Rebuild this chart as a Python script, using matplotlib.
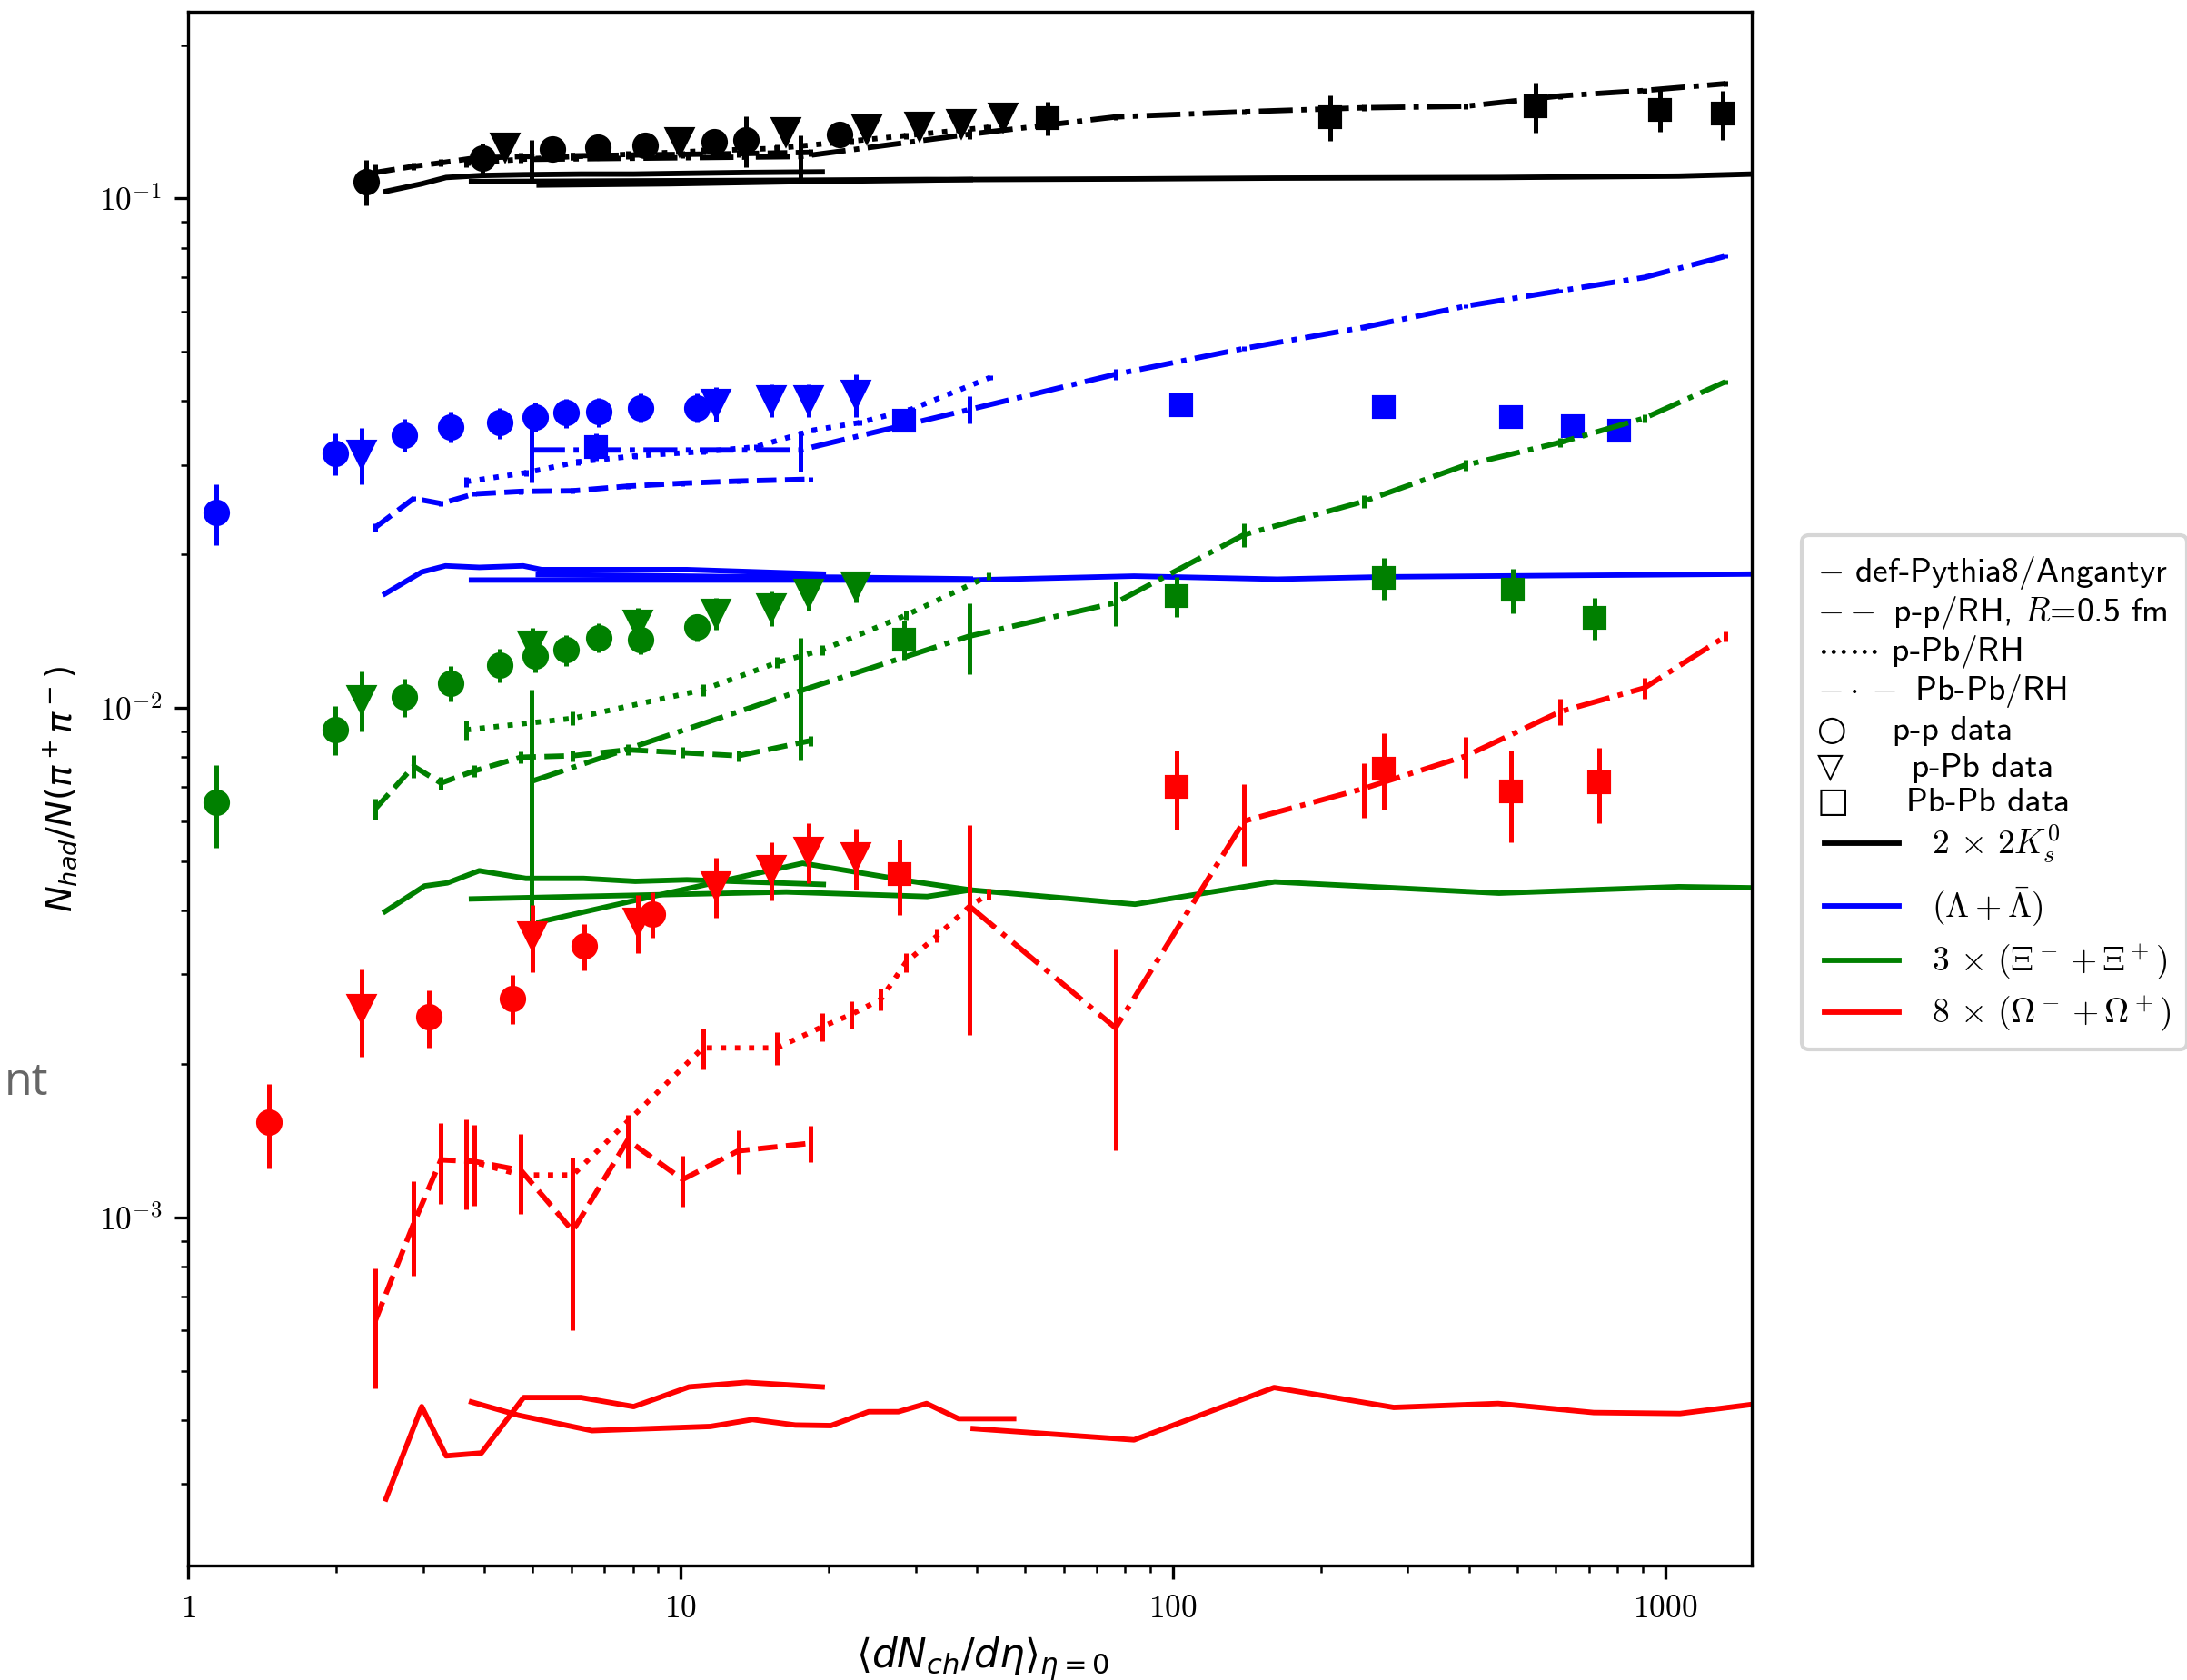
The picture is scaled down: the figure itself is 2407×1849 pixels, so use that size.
import numpy as np
import matplotlib
matplotlib.use("Agg")
import matplotlib.pyplot as plt
from matplotlib.lines import Line2D
from matplotlib.legend_handler import HandlerBase
from matplotlib.ticker import FuncFormatter, NullFormatter

plt.rcParams['mathtext.fontset'] = 'cm'

# ---------------- shared x grids ----------------
PP13_X = [1.14, 1.99, 2.75, 3.41, 4.29, 5.07, 5.85, 6.83, 8.30, 10.8]
PPB_X = [2.25, 5.0, 8.2, 11.8, 15.3, 18.2, 22.7]
RH_PP_X = [2.40, 2.87, 3.26, 3.81, 4.74, 6.04, 7.81, 10.1, 13.1, 18.35]
RH_PBPB_X = [4.97, 17.5, 38.6, 76.5, 139.5, 244, 393, 613, 907, 1324]

# ---------------- black : 2 x 2K0s ----------------
K_PP_X = [2.30, 3.96, 5.50, 6.78, 8.48, 11.7, 13.6, 21.0]
K_PP_Y = [0.108, 0.120, 0.125, 0.126, 0.127, 0.129, 0.130, 0.1335]
K_PP_ERR = [0.011, 0.008, 0.006, 0.006, 0.006, 0.006, 0.015, 0.006]
K_PPB_X = [4.41, 9.96, 16.4, 23.9, 30.6, 37.2, 45.3]
K_PPB_Y = [0.126, 0.1293, 0.1349, 0.1368, 0.1387, 0.1405, 0.1445]
K_PPB_ERR = [0.006, 0.006, 0.006, 0.006, 0.006, 0.007, 0.006]
K_PBPB_X = [55.6, 209, 546, 976, 1310]
K_PBPB_Y = [0.1438, 0.1445, 0.1516, 0.1494, 0.1465]
K_PBPB_ERR = [0.011, 0.015, 0.017, 0.014, 0.016]
K_RHPP_Y = [0.1124, 0.1156, 0.1174, 0.1200, 0.1208, 0.1212, 0.1216, 0.1220, 0.1224, 0.1231]
K_RHPP_ERR = [0.004, 0.002, 0.002, 0.002, 0.002, 0.002, 0.002, 0.002, 0.002, 0.002]
K_RHPPB_X = [3.66, 4.74, 6.04, 7.81, 11.1, 15.7, 22.2, 28.7, 42.2]
K_RHPPB_Y = [0.1171, 0.1193, 0.1208, 0.1220, 0.1239, 0.1254, 0.1295, 0.1328, 0.1379]
K_RHPPB_ERR = [0.002, 0.002, 0.002, 0.002, 0.002, 0.002, 0.002, 0.002, 0.002]
K_RHPBPB_Y = [0.1193, 0.1208, 0.1336, 0.1445, 0.1479, 0.1506, 0.1516, 0.1589, 0.1628, 0.1679]
K_RHPBPB_ERR = [0.011, 0.012, 0.003, 0.002, 0.002, 0.002, 0.002, 0.002, 0.002, 0.002]
K_DEF_PP_X = [2.52, 2.98, 3.34, 3.94, 4.80, 6.28, 8.03, 10.4, 13.6, 19.4]
K_DEF_PP_Y = [0.1032, 0.1068, 0.1099, 0.1109, 0.1113, 0.1116, 0.1116, 0.1120, 0.1124, 0.1127]
K_DEF_PPB_X = [5.16, 9.49, 17.7, 29.5, 38.8]
K_DEF_PPB_Y = [0.1062, 0.1068, 0.1079, 0.1085, 0.1089]
K_DEF_PBPB_X = [3.76, 7.80, 16.4, 31.7, 38.8, 83.8, 161, 460, 1067, 1500]
K_DEF_PBPB_Y = [0.1079, 0.1082, 0.1085, 0.1089, 0.1089, 0.1092, 0.1096, 0.1099, 0.1106, 0.1116]

# ---------------- blue : Lambda + anti-Lambda ----------------
L_PP_Y = [0.0242, 0.0316, 0.03436, 0.03565, 0.0363, 0.0373, 0.03797, 0.0381, 0.03885, 0.03885]
L_PP_ERR = [0.0033, 0.003, 0.0025, 0.0025, 0.0025, 0.0025, 0.0025, 0.0025, 0.0025, 0.0025]
L_PPB_X = [2.25, 11.8, 15.3, 18.2, 22.7]
L_PPB_Y = [0.03144, 0.03954, 0.0402, 0.0402, 0.0412]
L_PPB_ERR = [0.004, 0.003, 0.003, 0.003, 0.004]
L_PBPB_X = [6.74, 28.5, 104, 268, 487, 649, 805]
L_PBPB_Y = [0.03252, 0.03655, 0.03922, 0.03898, 0.0373, 0.03567, 0.03504]
L_PBPB_ERR = [0.002, 0.0015, 0.0015, 0.0015, 0.0015, 0.0015, 0.0015]
L_RHPP_Y = [0.02262, 0.02577, 0.02518, 0.0263, 0.0266, 0.02667, 0.02723, 0.0276, 0.02787, 0.0281]
L_RHPP_ERR = [0.0004, 0.0003, 0.0003, 0.0003, 0.0003, 0.0003, 0.0003, 0.0003, 0.0003, 0.0003]
L_RHPPB_X = [3.66, 4.85, 6.19, 8.09, 11.1, 14.2, 18.6, 23.1, 29.5, 42.6]
L_RHPPB_Y = [0.02779, 0.02894, 0.0304, 0.03122, 0.03184, 0.03252, 0.03508, 0.0363, 0.03859, 0.04453]
L_RHPPB_ERR = [0.0006, 0.0004, 0.0004, 0.0004, 0.0004, 0.0004, 0.0004, 0.0004, 0.0004, 0.0004]
L_RHPBPB_Y = [0.03207, 0.03207, 0.0385, 0.04516, 0.05074, 0.05583, 0.06144, 0.06587, 0.06996, 0.07698]
L_RHPBPB_ERR = [0.0044, 0.003, 0.0024, 0.0011, 0.0006, 0.0006, 0.0006, 0.0006, 0.0005, 0.0005]
L_DEF_PP_X = [2.51, 2.98, 3.33, 3.90, 4.79, 5.22, 10.3, 19.5]
L_DEF_PP_Y = [0.01675, 0.01848, 0.0190, 0.01887, 0.0190, 0.01868, 0.01868, 0.01831]
L_DEF_PPB_X = [5.14, 7.80, 12.3, 20.8, 38.8]
L_DEF_PPB_Y = [0.01826, 0.0182, 0.0181, 0.01805, 0.01791]
L_DEF_PBPB_X = [3.76, 19.5, 38.7, 83.4, 163, 270, 1500]
L_DEF_PBPB_Y = [0.01782, 0.01782, 0.01782, 0.01814, 0.01789, 0.01808, 0.01831]

# ---------------- green : 3 x (Xi- + Xi+) ----------------
X_PP_Y = [0.006516, 0.009076, 0.01051, 0.01118, 0.01214, 0.01265, 0.0130, 0.01374, 0.01364, 0.0144]
X_PP_ERR = [0.0012, 0.001, 0.0009, 0.0009, 0.0009, 0.0009, 0.0009, 0.0009, 0.0009, 0.0009]
X_PPB_Y = [0.0104, 0.01327, 0.01461, 0.01532, 0.01569, 0.01675, 0.01733]
X_PPB_ERR = [0.0014, 0.0011, 0.0011, 0.0011, 0.0012, 0.0012, 0.0012]
X_PBPB_X = [28.5, 102, 268, 490, 720]
X_PBPB_Y = [0.01364, 0.01656, 0.01799, 0.01703, 0.01502]
X_PBPB_ERR = [0.0012, 0.0015, 0.0017, 0.0017, 0.0014]
X_RHPP_Y = [0.006343, 0.007681, 0.007121, 0.007522, 0.008001, 0.008056, 0.008276, 0.008168, 0.008056, 0.008622]
X_RHPP_ERR = [0.0003, 0.0004, 0.0002, 0.0002, 0.0002, 0.0002, 0.0002, 0.0002, 0.0002, 0.0002]
X_RHPPB_X = [3.66, 6.04, 11.1, 15.7, 19.4, 28.7, 42.2]
X_RHPPB_Y = [0.009053, 0.009539, 0.01085, 0.01227, 0.01299, 0.0152, 0.01814]
X_RHPPB_ERR = [0.0004, 0.0003, 0.0003, 0.0003, 0.0003, 0.0003, 0.0003]
X_RHPBPB_Y = [0.007171, 0.0108, 0.01383, 0.01608, 0.02187, 0.02542, 0.02995, 0.0332, 0.03703, 0.04364]
X_RHPBPB_ERR = [0.0037, 0.0029, 0.0022, 0.0016, 0.0012, 0.0007, 0.0007, 0.0007, 0.0007, 0.0005]
X_DEF_PP_X = [2.51, 3.02, 3.36, 3.90, 4.85, 6.35, 8.09, 10.3, 19.5]
X_DEF_PP_Y = [0.003984, 0.004472, 0.004535, 0.004791, 0.004628, 0.004628, 0.004567, 0.004599, 0.004503]
X_DEF_PPB_X = [5.16, 9.49, 17.7, 29.5, 38.8]
X_DEF_PPB_Y = [0.0038, 0.004339, 0.004956, 0.004567, 0.004392]
X_DEF_PBPB_X = [3.76, 7.80, 16.4, 31.7, 38.8, 83.8, 161, 460, 1067, 1500]
X_DEF_PBPB_Y = [0.004218, 0.004285, 0.004353, 0.004264, 0.004392, 0.004118, 0.004556, 0.004329, 0.004457, 0.004435]

# ---------------- red : 8 x (Omega- + Omega+) ----------------
O_PP_X = [1.456, 3.08, 4.55, 6.38, 8.78]
O_PP_Y = [0.001538, 0.002474, 0.002692, 0.003411, 0.003943]
O_PP_ERR = [0.00029, 0.00032, 0.0003, 0.00036, 0.0004]
O_PPB_Y = [0.00257, 0.003571, 0.0038, 0.004472, 0.004825, 0.005236, 0.005093]
O_PPB_ERR = [0.0005, 0.00054, 0.0005, 0.0006, 0.00063, 0.0007, 0.0007]
O_PBPB_X = [27.8, 102, 268, 487, 735]
O_PBPB_Y = [0.004724, 0.007013, 0.007613, 0.006845, 0.007141]
O_PBPB_ERR = [0.0008, 0.00125, 0.0013, 0.0014, 0.0012]
O_RHPP_Y = [0.0006282, 0.0009731, 0.001297, 0.001288, 0.001237, 0.0009408, 0.001418, 0.001187, 0.001351, 0.001398]
O_RHPP_ERR = [0.000166, 0.000205, 0.000233, 0.000234, 0.00022, 0.00034, 0.00017, 0.000136, 0.000134, 0.000115]
O_RHPPB_X = [3.66, 4.74, 6.04, 11.1, 15.7, 19.4, 22.2, 25.5, 28.7, 33.2, 38.6, 42.2]
O_RHPPB_Y = [0.001297, 0.001211, 0.001211, 0.002151, 0.002151, 0.002367, 0.002501, 0.002679, 0.003168, 0.003571, 0.004074, 0.004312]
O_RHPPB_ERR = [0.00026, 0.0001, 0.0001, 0.0002, 0.00016, 0.00015, 0.00015, 0.00013, 0.00014, 0.0001, 0.0001, 0.0001]
O_RHPBPB_X = [38.6, 76.5, 139.5, 244, 393, 613, 907, 1324]
O_RHPBPB_Y = [0.004083, 0.002355, 0.005996, 0.006945, 0.008041, 0.009838, 0.01094, 0.0138]
O_RHPBPB_ERR = [0.0018, 0.001, 0.0011, 0.00085, 0.00074, 0.0006, 0.0005, 0.0003]
O_DEF_PP_X = [2.52, 2.98, 3.34, 3.94, 4.80, 6.28, 8.03, 10.4, 13.6, 19.4]
O_DEF_PP_Y = [0.0002802, 0.0004253, 0.0003404, 0.0003448, 0.0004431, 0.0004431, 0.0004253, 0.0004648, 0.0004745, 0.0004648]
O_DEF_PPB_X = [3.76, 4.69, 6.61, 11.5, 14.0, 17.1, 20.2, 24.1, 27.7, 31.6, 36.7, 47.5]
O_DEF_PPB_Y = [0.0004343, 0.0004089, 0.0003815, 0.0003888, 0.0004012, 0.0003913, 0.0003903, 0.0004156, 0.0004156, 0.0004313, 0.0004027, 0.0004027]
O_DEF_PBPB_X = [39.3, 83.4, 160.6, 281, 458, 716, 1073, 1500]
O_DEF_PBPB_Y = [0.0003851, 0.0003659, 0.0004636, 0.0004237, 0.0004313, 0.000414, 0.0004122, 0.0004294]

# ---------------- legend text ----------------
STYLE_LABELS = [r'$-$ def-Pythia8/Angantyr',
                r'$--$ p-p/RH, $R$=0.5 fm',
                r'$\cdots\cdots$ p-Pb/RH',
                r'$-\cdot-$ Pb-Pb/RH',
                u'\u25CB    p-p data',
                u'\u25BD      p-Pb data',
                u'\u25A1     Pb-Pb data']
SPECIES_LABELS = [r'$\qquad\quad\;\;\; 2\,\times\,2K_s^0$',
                  r'$\qquad\quad\;\;\; (\Lambda+\bar{\Lambda})$',
                  r'$\qquad\quad\;\;\; 3\,\times\,(\Xi^-+\Xi^+)$',
                  r'$\qquad\quad\;\;\; 8\,\times\,(\Omega^-+\Omega^+)$']
SPECIES_COLORS = ['black', 'blue', 'green', 'red']

# ---------------- drawing ----------------
LW = 1.4
EW = 1.2
MS = 6

fig = plt.figure(figsize=(2407 / 300, 1849 / 300), dpi=300)
ax = fig.add_axes([0.0861, 0.0679, 0.7149, 0.9252])
ax.set_xscale('log')
ax.set_yscale('log')

species = [
    ('black', K_DEF_PP_X, K_DEF_PP_Y, K_DEF_PPB_X, K_DEF_PPB_Y, K_DEF_PBPB_X, K_DEF_PBPB_Y,
     RH_PP_X, K_RHPP_Y, K_RHPP_ERR, K_RHPPB_X, K_RHPPB_Y, K_RHPPB_ERR, RH_PBPB_X, K_RHPBPB_Y, K_RHPBPB_ERR,
     K_PP_X, K_PP_Y, K_PP_ERR, K_PPB_X, K_PPB_Y, K_PPB_ERR, K_PBPB_X, K_PBPB_Y, K_PBPB_ERR),
    ('blue', L_DEF_PP_X, L_DEF_PP_Y, L_DEF_PPB_X, L_DEF_PPB_Y, L_DEF_PBPB_X, L_DEF_PBPB_Y,
     RH_PP_X, L_RHPP_Y, L_RHPP_ERR, L_RHPPB_X, L_RHPPB_Y, L_RHPPB_ERR, RH_PBPB_X, L_RHPBPB_Y, L_RHPBPB_ERR,
     PP13_X, L_PP_Y, L_PP_ERR, L_PPB_X, L_PPB_Y, L_PPB_ERR, L_PBPB_X, L_PBPB_Y, L_PBPB_ERR),
    ('green', X_DEF_PP_X, X_DEF_PP_Y, X_DEF_PPB_X, X_DEF_PPB_Y, X_DEF_PBPB_X, X_DEF_PBPB_Y,
     RH_PP_X, X_RHPP_Y, X_RHPP_ERR, X_RHPPB_X, X_RHPPB_Y, X_RHPPB_ERR, RH_PBPB_X, X_RHPBPB_Y, X_RHPBPB_ERR,
     PP13_X, X_PP_Y, X_PP_ERR, PPB_X, X_PPB_Y, X_PPB_ERR, X_PBPB_X, X_PBPB_Y, X_PBPB_ERR),
    ('red', O_DEF_PP_X, O_DEF_PP_Y, O_DEF_PPB_X, O_DEF_PPB_Y, O_DEF_PBPB_X, O_DEF_PBPB_Y,
     RH_PP_X, O_RHPP_Y, O_RHPP_ERR, O_RHPPB_X, O_RHPPB_Y, O_RHPPB_ERR, O_RHPBPB_X, O_RHPBPB_Y, O_RHPBPB_ERR,
     O_PP_X, O_PP_Y, O_PP_ERR, PPB_X, O_PPB_Y, O_PPB_ERR, O_PBPB_X, O_PBPB_Y, O_PBPB_ERR),
]

for s in species:
    c = s[0]
    ax.plot(s[1], s[2], '-', color=c, lw=LW)
    ax.plot(s[3], s[4], '-', color=c, lw=LW)
    ax.plot(s[5], s[6], '-', color=c, lw=LW)
    ax.errorbar(s[7], s[8], yerr=s[9], ls='--', color=c, lw=LW, elinewidth=EW, capsize=0)
    ax.errorbar(s[10], s[11], yerr=s[12], ls=':', color=c, lw=LW, elinewidth=EW, capsize=0)
    ax.errorbar(s[13], s[14], yerr=s[15], ls='-.', color=c, lw=LW, elinewidth=EW, capsize=0)
    ax.errorbar(s[16], s[17], yerr=s[18], fmt='o', color=c, ms=MS, elinewidth=EW, capsize=0)
    ax.errorbar(s[19], s[20], yerr=s[21], fmt='v', color=c, ms=MS + 0.5, elinewidth=EW, capsize=0)
    ax.errorbar(s[22], s[23], yerr=s[24], fmt='s', color=c, ms=MS - 0.5, elinewidth=EW, capsize=0)

ax.set_xlim(1, 1500)
ax.set_ylim(2.07e-4, 0.2326)
ax.xaxis.set_major_formatter(FuncFormatter(lambda v, p: r'$%g$' % v))
ax.yaxis.set_major_formatter(FuncFormatter(lambda v, p: r'$10^{%d}$' % int(np.round(np.log10(v)))))
ax.xaxis.set_minor_formatter(NullFormatter())
ax.yaxis.set_minor_formatter(NullFormatter())
ax.tick_params(labelsize=8.5)

ax.set_ylabel(r'$N_{had}/N(\pi^+\pi^-)$', fontsize=9.3, math_fontfamily='dejavusans')
ax.set_xlabel(r'$\langle dN_{ch}/d\eta\rangle_{\eta=0}$', fontsize=10.5, math_fontfamily='dejavusans')
ax.yaxis.set_label_coords(-0.07, 0.5)
ax.xaxis.set_label_coords(0.508, -0.044)


class RowHandler(HandlerBase):
    """Legend row with a fixed ascent/descent (in font-size units) and an optional offset line."""

    def __init__(self, asc, desc, line=False, x0=0.22, x1=2.4):
        super().__init__()
        self.asc = asc
        self.desc = desc
        self.line = line
        self.x0 = x0
        self.x1 = x1

    def legend_artist(self, legend, orig_handle, fontsize, handlebox):
        handlebox.height = (self.asc + self.desc) * fontsize
        handlebox.ydescent = self.desc * fontsize
        y = 0.33 * fontsize
        if self.line:
            ln = Line2D([self.x0 * fontsize, self.x1 * fontsize], [y, y],
                        color=orig_handle.get_color(), lw=orig_handle.get_linewidth())
        else:
            ln = Line2D([0, 0], [y, y], ls='none')
            ln.set_visible(False)
        handlebox.add_artist(ln)
        return ln


ROW_ASC = [0.92, 0.85, 0.85, 0.85, 0.89, 0.82, 0.77, 1.02, 1.24, 1.10, 1.01]
ROW_DESC = [0.30, 0.30, 0.30, 0.30, 0.25, 0.25, 0.25, 0.60, 0.50, 0.50, 0.25]

handles = []
hmap = {}
for i, lab in enumerate(STYLE_LABELS):
    h = Line2D([], [], ls='none')
    handles.append(h)
    hmap[h] = RowHandler(ROW_ASC[i], ROW_DESC[i])
for j, c in enumerate(SPECIES_COLORS):
    i = len(STYLE_LABELS) + j
    h = Line2D([], [], color=c, lw=LW)
    handles.append(h)
    hmap[h] = RowHandler(ROW_ASC[i], ROW_DESC[i], line=True)

leg = fig.legend(handles, STYLE_LABELS + SPECIES_LABELS, handler_map=hmap,
                 loc='upper left', bbox_to_anchor=(0.824, 0.6814), bbox_transform=fig.transFigure,
                 borderaxespad=0, handlelength=0, handletextpad=0, labelspacing=0.0,
                 borderpad=0.45, prop={'family': ['cmss10', 'DejaVu Sans'], 'size': 9})

fig.text(0.002, 1 - 1205 / 1849, 'nt', ha='left', va='baseline', fontsize=12,
         family='Open Sans', color='#666666')

fig.savefig('out.png', dpi=300)
